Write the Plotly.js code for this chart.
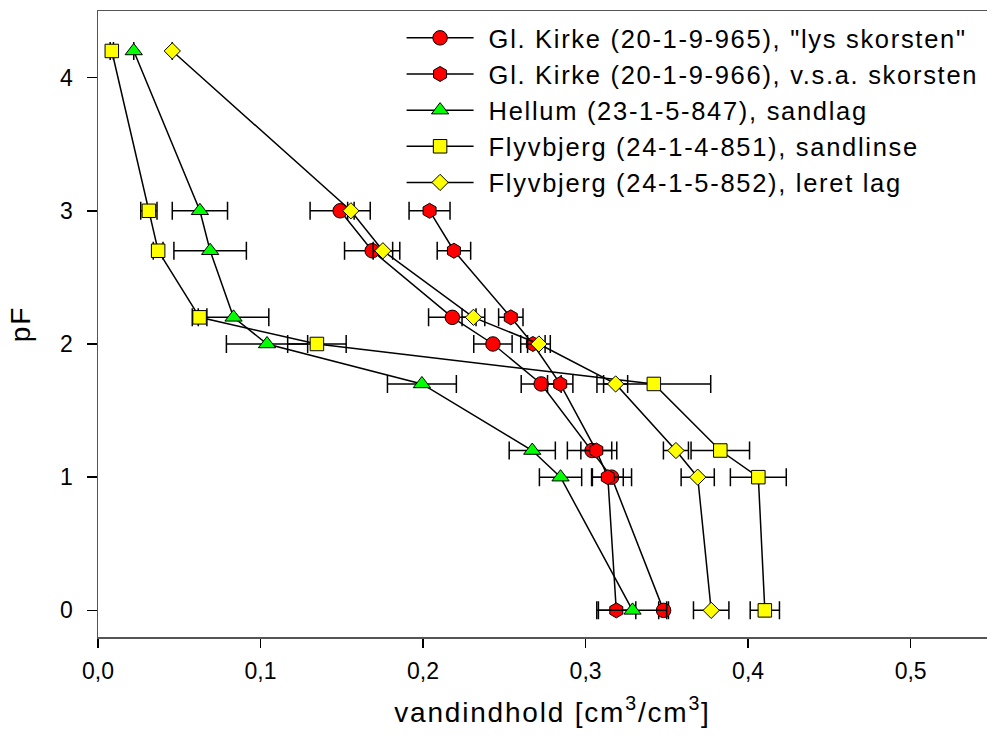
<!DOCTYPE html>
<html>
<head>
<meta charset="utf-8">
<script src="https://cdn.plot.ly/plotly-3.0.1.min.js"></script>
<style>
html, body { margin: 0; padding: 0; background: #fff; overflow: hidden; }
#chart { width: 987px; height: 749px; }
.legendtext { letter-spacing: 1.7px; transform: translateX(10px); }
.legend .scrollbox { clip-path: none !important; }
.xtitle, .ytitle { letter-spacing: 1.8px; }
.xtitle { transform: translateX(10px); }
</style>
</head>
<body>
<div id="chart"></div>
<script>
// pF levels
const pFKirke = [3, 2.7, 2.2, 2, 1.7, 1.2, 1, 0];
const pFAll = [4.2, 3, 2.7, 2.2, 2, 1.7, 1.2, 1, 0];

// Gl. Kirke (20-1-9-965), "lys skorsten"
const kirke965 = [0.149, 0.1687, 0.218, 0.243, 0.2727, 0.304, 0.316, 0.348];
const kirke965Err = [0.0185, 0.017, 0.0146, 0.0118, 0.0123, 0.0152, 0.0123, 0.003];

// Gl. Kirke (20-1-9-966), v.s.a. skorsten
const kirke966 = [0.204, 0.219, 0.254, 0.2676, 0.2844, 0.3066, 0.3137, 0.3189];
const kirke966Err = [0.0126, 0.0103, 0.0075, 0.0075, 0.0078, 0.0095, 0.0095, 0.012];

// Hellum (23-1-5-847), sandlag
const hellum = [0.022, 0.0627, 0.069, 0.0834, 0.104, 0.1993, 0.2672, 0.2846, 0.3289];
const hellumErr = [0, 0.017, 0.0223, 0.0217, 0.025, 0.0212, 0.0142, 0.013, 0.021];

// Flyvbjerg (24-1-4-851), sandlinse
const flyv851 = [0.0085, 0.0313, 0.037, 0.0625, 0.1347, 0.342, 0.3829, 0.4063, 0.4103];
const flyv851Err = [0.001, 0.005, 0.003, 0.0045, 0.018, 0.035, 0.018, 0.0172, 0.009];

// Flyvbjerg (24-1-5-852), leret lag
const flyv852 = [0.0457, 0.1556, 0.1753, 0.231, 0.2713, 0.3185, 0.3556, 0.369, 0.3773];
const flyv852Err = [0, 0.002, 0.006, 0.007, 0.007, 0.0074, 0.0077, 0.0102, 0.0109];

const names = [
  'Gl. Kirke (20-1-9-965), "lys skorsten"',
  'Gl. Kirke (20-1-9-966), v.s.a. skorsten',
  'Hellum (23-1-5-847), sandlag',
  'Flyvbjerg (24-1-4-851), sandlinse',
  'Flyvbjerg (24-1-5-852), leret lag'
];

const xTicks = [0, 0.1, 0.2, 0.3, 0.4, 0.5];
const yTicks = [0, 1, 2, 3, 4];

function mk(name, x, y, err, symbol, color, size) {
  return {
    type: 'scatter', mode: 'lines+markers', name: name,
    x: x, y: y,
    line: {color: '#000', width: 1.5},
    marker: {symbol: symbol, color: color, size: size, line: {color: '#000', width: 1}},
    error_x: {type: 'data', array: err, visible: true, color: '#000', thickness: 1.5, width: 9},
    hoverinfo: 'x+y'
  };
}

const traces = [
  mk(names[0], kirke965, pFKirke, kirke965Err, 'circle', '#ff0000', 14.5),
  mk(names[1], kirke966, pFKirke, kirke966Err, 'hexagon', '#ff0000', 15),
  mk(names[2], hellum, pFAll, hellumErr, 'triangle-up', '#00ff00', 15),
  mk(names[3], flyv851, pFAll, flyv851Err, 'square', '#ffff00', 13.5),
  mk(names[4], flyv852, pFAll, flyv852Err, 'diamond', '#ffff00', 12.5)
];

const FONT = 'Liberation Sans, Arial, sans-serif';

const layout = {
  width: 987, height: 749,
  margin: {l: 98, r: 0, t: 11, b: 112},
  paper_bgcolor: '#fff', plot_bgcolor: '#fff',
  separators: ',.',
  font: {family: FONT, color: '#000', size: 23},
  showlegend: true,
  legend: {
    x: 0.3415, y: 0.994, xanchor: 'left', yanchor: 'top',
    bgcolor: 'rgba(0,0,0,0)', borderwidth: 0,
    font: {family: FONT, size: 25.5, color: '#000'},
    itemwidth: 67, tracegroupgap: 0
  },
  xaxis: {
    range: [0, 0.547], tickvals: xTicks, tickformat: '.1f',
    ticks: 'outside', ticklen: 9, tickwidth: 1.5, tickcolor: '#000',
    ticklabelstandoff: 4,
    showline: true, linecolor: '#555', linewidth: 1.5, mirror: true,
    showgrid: false, zeroline: false,
    tickfont: {family: FONT, size: 23, color: '#000'},
    title: {text: 'vandindhold [cm<sup>3</sup>/cm<sup>3</sup>]', font: {family: FONT, size: 28, color: '#000'}, standoff: 19}
  },
  yaxis: {
    range: [-0.2, 4.5], tickvals: yTicks, tickformat: 'd',
    ticks: 'outside', ticklen: 10, tickwidth: 1.5, tickcolor: '#000',
    ticklabelstandoff: 9,
    showline: true, linecolor: '#555', linewidth: 1.5,
    showgrid: false, zeroline: false,
    tickfont: {family: FONT, size: 23, color: '#000'},
    title: {text: 'pF', font: {family: FONT, size: 28, color: '#000'}, standoff: 21}
  }
};

Plotly.newPlot('chart', traces, layout, {staticPlot: true, displayModeBar: false});
</script>
</body>
</html>
